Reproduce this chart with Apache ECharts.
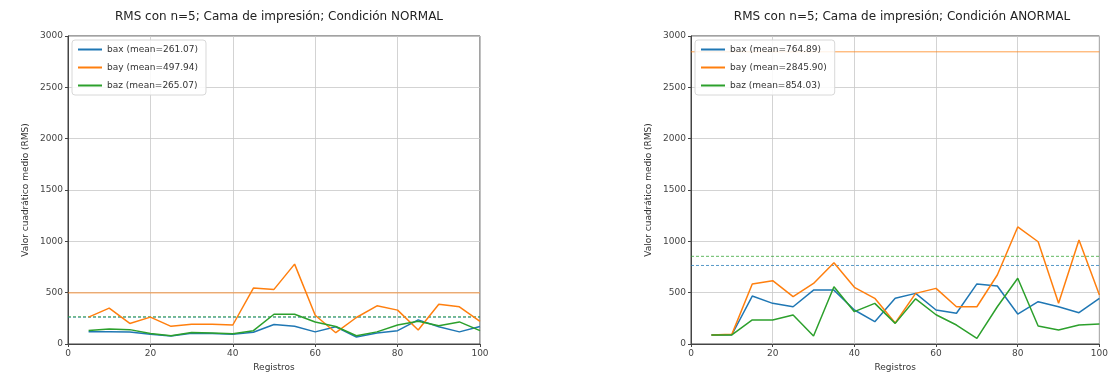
<!DOCTYPE html>
<html>
<head>
<meta charset="utf-8">
<script src="https://cdn.jsdelivr.net/npm/echarts@6/dist/echarts.min.js"></script>
<style>
  html, body { margin: 0; padding: 0; background: #fff; }
  #main { width: 1111px; height: 378px; }
</style>
</head>
<body>
<div id="main"></div>
<script>
// registros (eje x)
var registros = [5, 10, 15, 20, 25, 30, 35, 40, 45, 50, 55, 60, 65, 70, 75, 80, 85, 90, 95, 100];

// condicion NORMAL
var normalBax = [120, 120, 118, 95, 78, 105, 102, 95, 115, 190, 172, 118, 168, 68, 108, 130, 235, 168, 118, 170];
var normalBay = [262, 350, 200, 262, 172, 192, 192, 185, 545, 532, 778, 280, 110, 258, 372, 330, 136, 388, 362, 220];
var normalBaz = [132, 145, 140, 102, 80, 112, 108, 100, 130, 290, 290, 215, 170, 80, 118, 185, 222, 178, 215, 130];
var normalMeans = [261.07, 497.94, 265.07];

// condicion ANORMAL
var anormalBax = [88, 90, 467, 396, 363, 525, 525, 331, 217, 445, 493, 331, 299, 585, 565, 292, 412, 363, 305, 445];
var anormalBay = [88, 94, 585, 617, 461, 590, 792, 552, 445, 205, 493, 542, 363, 363, 672, 1140, 996, 396, 1013, 477];
var anormalBaz = [88, 88, 234, 234, 282, 78, 558, 315, 396, 201, 440, 285, 185, 55, 363, 640, 175, 136, 185, 195];
var anormalMeans = [764.89, 2845.90, 854.03];

var colores = ['#1f77b4', '#ff7f0e', '#2ca02c'];
var nombres = ['bax', 'bay', 'baz'];

var chart = echarts.init(document.getElementById('main'));

function pares(vals) {
  return registros.map(function (x, i) { return [x, vals[i]]; });
}

function etiqueta(i, media) {
  return nombres[i] + ' (mean=' + media.toFixed(2) + ')';
}

function serie(i, vals, media, idx) {
  return {
    name: etiqueta(i, media),
    type: 'line',
    xAxisIndex: idx,
    yAxisIndex: idx,
    data: pares(vals),
    symbol: 'none',
    z: 3,
    lineStyle: { width: 1.5, color: colores[i] },
    itemStyle: { color: colores[i] }
  };
}

// linea horizontal de la media (solida para bay, discontinua para bax/baz)
function serieMedia(i, media, idx) {
  return {
    name: 'media ' + nombres[i] + ' ' + idx,
    type: 'line',
    xAxisIndex: idx,
    yAxisIndex: idx,
    data: [[0, media], [100, media]],
    symbol: 'none',
    silent: true,
    z: 2,
    lineStyle: { width: 1, opacity: 0.75, color: colores[i], type: i === 1 ? 'solid' : [3, 2] },
    itemStyle: { color: colores[i] }
  };
}

function ejeX(idx) {
  return {
    gridIndex: idx, type: 'value', min: 0, max: 100, interval: 20,
    name: 'Registros', nameLocation: 'middle', nameGap: 19,
    nameTextStyle: { fontSize: 9, color: '#333' },
    axisLine: { show: true, lineStyle: { color: '#444' } },
    axisTick: { show: true, inside: false, length: 3, lineStyle: { color: '#444' } },
    axisLabel: { fontSize: 9, color: '#444', margin: 5 },
    splitLine: { show: true, lineStyle: { color: '#c8c8c8', width: 0.8 } }
  };
}

function ejeY(idx) {
  return {
    gridIndex: idx, type: 'value', min: 0, max: 3000, interval: 500,
    name: 'Valor cuadrático medio (RMS)', nameLocation: 'middle', nameGap: 38,
    nameTextStyle: { fontSize: 9, color: '#333' },
    axisLine: { show: true, lineStyle: { color: '#444' } },
    axisTick: { show: true, inside: false, length: 3, lineStyle: { color: '#444' } },
    axisLabel: { fontSize: 9, color: '#444', margin: 5, formatter: function (v) { return String(v); } },
    splitLine: { show: true, lineStyle: { color: '#c8c8c8', width: 0.8 } }
  };
}

function leyenda(left, means) {
  return {
    orient: 'vertical', left: left, top: 40,
    data: [0, 1, 2].map(function (i) { return etiqueta(i, means[i]); }),
    icon: 'rect', itemWidth: 24, itemHeight: 2, itemGap: 9,
    textStyle: { fontSize: 9, color: '#333' },
    backgroundColor: 'rgba(255,255,255,0.85)',
    borderColor: '#d8d8d8', borderWidth: 1, borderRadius: 3,
    padding: [5, 8, 5, 6]
  };
}

var series = [];
[0, 1, 2].forEach(function (i) {
  series.push(serieMedia(i, normalMeans[i], 0));
  series.push(serieMedia(i, anormalMeans[i], 1));
});
series.push(serie(0, normalBax, normalMeans[0], 0));
series.push(serie(1, normalBay, normalMeans[1], 0));
series.push(serie(2, normalBaz, normalMeans[2], 0));
series.push(serie(0, anormalBax, anormalMeans[0], 1));
series.push(serie(1, anormalBay, anormalMeans[1], 1));
series.push(serie(2, anormalBaz, anormalMeans[2], 1));

var option = {
  animation: false,
  textStyle: { fontFamily: 'DejaVu Sans' },
  title: [
    { text: 'RMS con n=5; Cama de impresión; Condición NORMAL', left: 274, top: 6, textAlign: 'center',
      textStyle: { fontSize: 12, fontWeight: 'normal', color: '#222' } },
    { text: 'RMS con n=5; Cama de impresión; Condición ANORMAL', left: 897, top: 6, textAlign: 'center',
      textStyle: { fontSize: 12, fontWeight: 'normal', color: '#222' } }
  ],
  legend: [leyenda(72, normalMeans), leyenda(695, anormalMeans)],
  grid: [
    { left: 68, top: 36, width: 412, height: 308, show: true, borderColor: '#444', borderWidth: 1, backgroundColor: '#fff' },
    { left: 691, top: 36, width: 412, height: 308, show: true, borderColor: '#444', borderWidth: 1, backgroundColor: '#fff' }
  ],
  xAxis: [ejeX(0), ejeX(1)],
  yAxis: [ejeY(0), ejeY(1)],
  series: series
};

chart.setOption(option);
</script>
</body>
</html>
